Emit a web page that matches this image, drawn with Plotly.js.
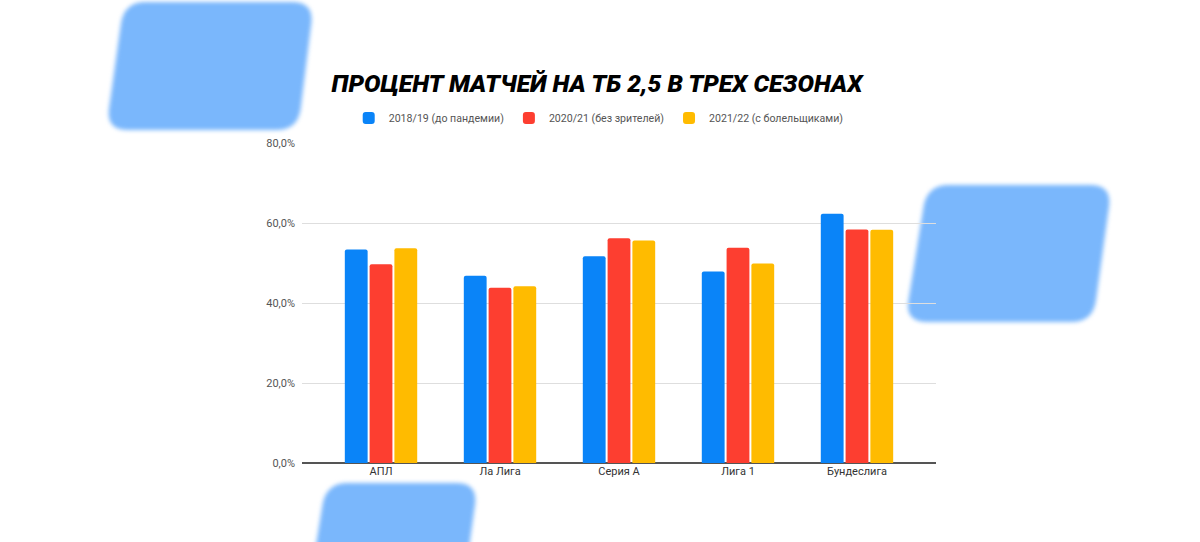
<!DOCTYPE html>
<html>
<head>
<meta charset="utf-8">
<script src="https://cdn.plot.ly/plotly-3.0.1.min.js"></script>
<style>
html,body{margin:0;padding:0;background:#fff;}
#chart{width:1200px;height:542px;}
</style>
</head>
<body>
<div id="chart"></div>
<script>
const categories = ["АПЛ", "Ла Лига", "Серия А", "Лига 1", "Бундеслига"];
const seriesNames = ["2018/19 (до пандемии)", "2020/21 (без зрителей)", "2021/22 (с болельщиками)"];
const season2018 = [53.4, 46.8, 51.7, 47.9, 62.3];
const season2020 = [49.7, 43.8, 56.2, 53.8, 58.4];
const season2021 = [53.7, 44.2, 55.6, 49.9, 58.3];
const yTicks = [0, 20, 40, 60, 80];
const yTickLabels = ["0,0%", "20,0%", "40,0%", "60,0%", "80,0%"];

const colors = ["#0a84f8", "#fd3e30", "#ffbb00"];
const seriesValues = [season2018, season2020, season2021];

const traces = seriesValues.map((vals, i) => ({
  type: "bar",
  name: seriesNames[i],
  x: categories,
  y: vals,
  marker: {color: colors[i], cornerradius: 2, line: {width: 0}},
  hoverinfo: "skip"
}));

// layout geometry (pixels)
const W = 1200, H = 542;
const L = 302, R = 264, T = 143, B = 79;
const pw = W - L - R, ph = H - T - B;
function px(x){ return ((x - L) / pw).toFixed(5); }
function py(y){ return ((H - B - y) / ph).toFixed(5); }

// rounded parallelogram path from pixel corners
function roundedPoly(pts, r){
  const n = pts.length;
  let d = "";
  for (let i = 0; i < n; i++){
    const p0 = pts[(i - 1 + n) % n], p1 = pts[i], p2 = pts[(i + 1) % n];
    const v1 = [p0[0]-p1[0], p0[1]-p1[1]], v2 = [p2[0]-p1[0], p2[1]-p1[1]];
    const l1 = Math.hypot(v1[0], v1[1]), l2 = Math.hypot(v2[0], v2[1]);
    const a = [p1[0] + v1[0]/l1*r, p1[1] + v1[1]/l1*r];
    const b = [p1[0] + v2[0]/l2*r, p1[1] + v2[1]/l2*r];
    d += (i === 0 ? "M" : "L") + px(a[0]) + "," + py(a[1]);
    d += "Q" + px(p1[0]) + "," + py(p1[1]) + " " + px(b[0]) + "," + py(b[1]);
  }
  return d + "Z";
}

const deco = [
  [[124, 2], [314, 2], [298, 130], [106, 130]],
  [[927, 185], [1112, 185], [1093, 322], [905, 322]],
  [[326, 483], [478, 483], [466, 570], [312, 570]]
];
const shapes = deco.map(p => ({
  type: "path", xref: "paper", yref: "paper", layer: "below",
  path: roundedPoly(p, 22),
  fillcolor: "#7ab7fc", line: {width: 0}
}));

const layout = {
  width: W, height: H,
  margin: {l: L, r: R, t: T, b: B, pad: 0},
  paper_bgcolor: "#ffffff",
  plot_bgcolor: "rgba(0,0,0,0)",
  barmode: "group",
  bargap: 0.375,
  bargroupgap: 0.08,
  showlegend: true,
  title: {
    text: "ПРОЦЕНТ МАТЧЕЙ НА ТБ 2,5 В ТРЕХ СЕЗОНАХ",
    xref: "container", yref: "container",
    x: 0.4975, xanchor: "center", y: 0.847, yanchor: "middle",
    font: {family: "Roboto", size: 24.6, weight: 900, style: "italic", color: "#000"}
  },
  legend: {
    orientation: "h", x: 0.468, xanchor: "center", y: 1.078, yanchor: "middle",
    font: {family: "Roboto", size: 10.6, color: "#555"},
    itemwidth: 30, tracegroupgap: 0, bgcolor: "rgba(0,0,0,0)"
  },
  xaxis: {
    type: "category",
    range: [-0.664, 4.664],
    showgrid: false, showline: false, zeroline: false,
    ticks: "", ticklen: 0,
    tickfont: {family: "Roboto", size: 11, color: "#333"},
    fixedrange: true
  },
  yaxis: {
    range: [0, 80],
    tickmode: "array",
    tickvals: yTicks,
    ticktext: yTickLabels,
    showgrid: true, gridcolor: "#dedede", gridwidth: 1,
    zeroline: true, zerolinecolor: "#555", zerolinewidth: 1.5,
    showline: false, ticks: "", ticklabelstandoff: 6,
    tickfont: {family: "Roboto", size: 11, color: "#555"},
    fixedrange: true
  },
  shapes: shapes
};

Plotly.newPlot("chart", traces, layout, {displayModeBar: false, staticPlot: true}).then(() => {
  document.querySelectorAll(".shapelayer path").forEach(p => { p.style.filter = "blur(2px)"; });
});
</script>
</body>
</html>
